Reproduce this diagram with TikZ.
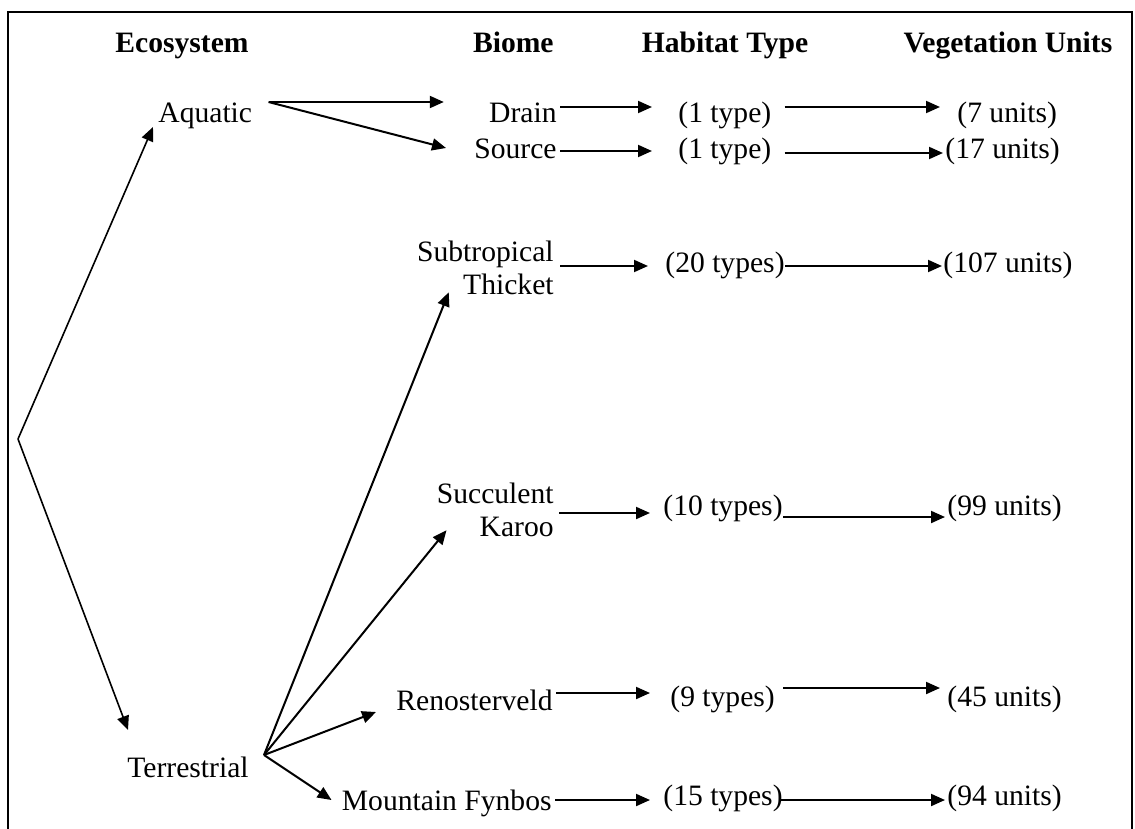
\documentclass[tikz,border=0pt]{standalone}
\usepackage{fontspec}
\setmainfont{Liberation Serif}
\usetikzlibrary{arrows.meta}

\begin{document}
\begin{tikzpicture}[
    x=0.5pt, y=-0.5pt,
    every node/.style={
        inner sep=0pt,
        font=\fontsize{14.8}{16.5}\selectfont
    },
    head/.style={
        font=\fontsize{14.8}{16.5}\selectfont\bfseries
    },
    arr/.style={
        -{Triangle[length=7pt,width=6pt]},
        line width=1pt
    }
]
\useasboundingbox (0,0) rectangle (1135,829);
\draw[line width=1.3pt] (8,829) -- (8,12) -- (1132,12) -- (1132,829);

% column heads
\node[head, anchor=base] (ecoH) at (182,53) {Ecosystem};
\node[head, anchor=base east] (biomeH) at (554,53) {Biome};
\node[head, anchor=base] (habH) at (725,53) {Habitat Type};
\node[head, anchor=base] (vegH) at (1008,53) {Vegetation Units};

% ecosystems
\coordinate (split) at (18,439);
\node[anchor=base west] (aquatic) at (158,123) {Aquatic};
\node[anchor=base west] (terrestrial) at (127,777) {Terrestrial};

% biomes
\node[anchor=base east] (drain) at (557,123) {Drain};
\node[anchor=base east] (source) at (557,158) {Source};
\node[anchor=east, align=right] (subtrop) at (554,268) {Subtropical\\Thicket};
\node[anchor=east, align=right] (succ) at (554,510) {Succulent\\Karoo};
\node[anchor=base east] (reno) at (553,710) {Renosterveld};
\node[anchor=base east] (fynbos) at (552,810) {Mountain Fynbos};

% habitat types
\node[anchor=base west] (hab1) at (678,123) {(1 type)};
\node[anchor=base west] (hab2) at (678,158) {(1 type)};
\node[anchor=base west] (hab3) at (665,272) {(20 types)};
\node[anchor=base west] (hab4) at (663,515) {(10 types)};
\node[anchor=base west] (hab5) at (670,706) {(9 types)};
\node[anchor=base west] (hab6) at (663,805) {(15 types)};

% vegetation units
\node[anchor=base west] (veg1) at (957,123) {(7 units)};
\node[anchor=base west] (veg2) at (945,158) {(17 units)};
\node[anchor=base west] (veg3) at (943,272) {(107 units)};
\node[anchor=base west] (veg4) at (947,515) {(99 units)};
\node[anchor=base west] (veg5) at (947,706) {(45 units)};
\node[anchor=base west] (veg6) at (947,805) {(94 units)};

% ecosystem split
\draw[arr, line width=0.8pt] (split) -- ([shift={(-2.5pt,-2pt)}]aquatic.base west);
\draw[arr, line width=0.8pt] (split) -- ([shift={(0.5pt,23.5pt)}]terrestrial.base west);

% ecosystem to biome
\draw[arr] ([shift={(8pt,10.5pt)}]aquatic.base east) -- ([shift={(-22.5pt,10.5pt)}]drain.base west);
\draw[arr] ([shift={(8pt,10.5pt)}]aquatic.base east) -- ([shift={(-14pt,5pt)}]source.base west);
\draw[arr] ([shift={(7.5pt,11pt)}]terrestrial.base east) -- ([shift={(16pt,1.5pt)}]subtrop.south west);
\draw[arr] ([shift={(7.5pt,11pt)}]terrestrial.base east) -- ([shift={(5pt,3.5pt)}]succ.south west);
\draw[arr] ([shift={(7.5pt,11pt)}]terrestrial.base east) -- ([shift={(-10pt,-1pt)}]reno.base west);
\draw[arr] ([shift={(7.5pt,11pt)}]terrestrial.base east) -- ([shift={(-5pt,5pt)}]fynbos.base west);

% biome to habitat type
\draw[arr] ([shift={(1.5pt,8pt)}]drain.base east) -- ([shift={(-13pt,8pt)}]hab1.base west);
\draw[arr] ([shift={(1.5pt,3.5pt)}]source.base east) -- ([shift={(-13pt,3.5pt)}]hab2.base west);
\draw[arr] ([shift={(3pt,1pt)}]subtrop.east) -- ([shift={(-8.5pt,3pt)}]hab3.base west);
\draw[arr] ([shift={(2.5pt,-1.5pt)}]succ.east) -- ([shift={(-6.5pt,1pt)}]hab4.base west);
\draw[arr] ([shift={(1.5pt,8.5pt)}]reno.base east) -- ([shift={(-10pt,6.5pt)}]hab5.base west);
\draw[arr] ([shift={(1.5pt,5pt)}]fynbos.base east) -- ([shift={(-6.5pt,2.5pt)}]hab6.base west);

% habitat type to vegetation units
\draw[arr] ([shift={(6.5pt,8pt)}]hab1.base east) -- ([shift={(-8.5pt,8pt)}]veg1.base west);
\draw[arr] ([shift={(6.5pt,2.5pt)}]hab2.base east) -- ([shift={(-1pt,2.5pt)}]veg2.base west);
\draw[arr] ([shift={(0pt,3pt)}]hab3.base east) -- ([shift={(-0.5pt,3pt)}]veg3.base west);
\draw[arr] ([shift={(0pt,-1pt)}]hab4.base east) -- ([shift={(-1pt,-1pt)}]veg4.base west);
\draw[arr] ([shift={(4pt,9pt)}]hab5.base east) -- ([shift={(-3.5pt,9pt)}]veg5.base west);
\draw[arr] ([shift={(-1pt,2.5pt)}]hab6.base east) -- ([shift={(-1pt,2.5pt)}]veg6.base west);

\end{tikzpicture}
\end{document}
